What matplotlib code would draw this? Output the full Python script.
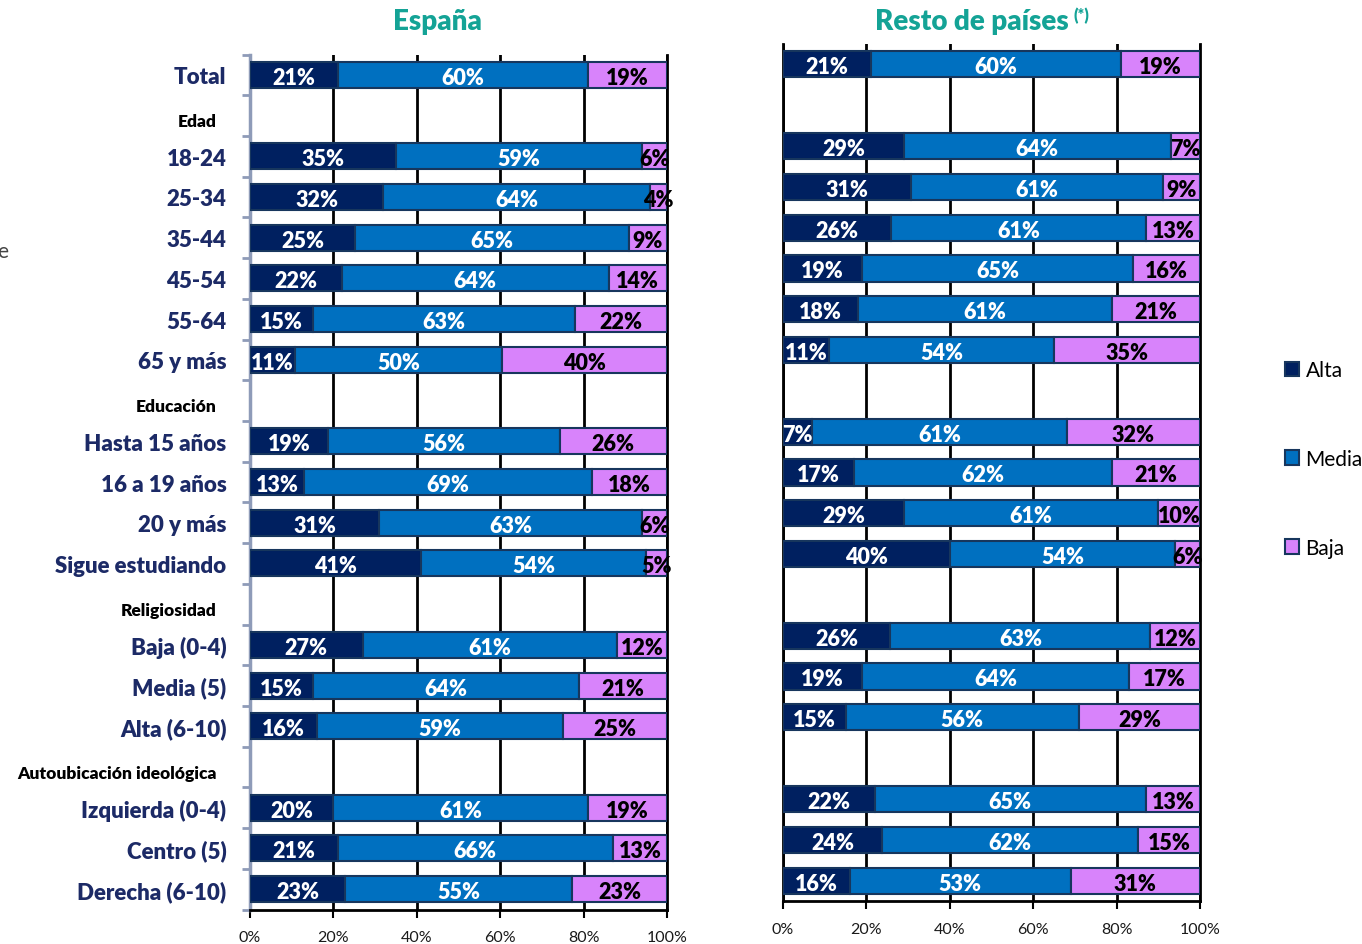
#!/usr/bin/python3
# -*- coding: UTF-8 -*-

import numpy as np
import matplotlib
matplotlib.use('Agg')
import matplotlib.pyplot as plt
from matplotlib.patches import Patch
from matplotlib.transforms import ScaledTranslation

plt.rcParams['font.family'] = ['Lato', 'DejaVu Sans']

## Data #########################################################################
rows = ['Total', 'Edad', '18-24', '25-34', '35-44', '45-54', '55-64', '65 y más',
        'Educación', 'Hasta 15 años', '16 a 19 años', '20 y más', 'Sigue estudiando',
        'Religiosidad', 'Baja (0-4)', 'Media (5)', 'Alta (6-10)',
        'Autoubicación ideológica', 'Izquierda (0-4)', 'Centro (5)', 'Derecha (6-10)']
headers = ['Edad', 'Educación', 'Religiosidad', 'Autoubicación ideológica']
series = ['Alta', 'Media', 'Baja']

esp_alta  = [21, 35, 32, 25, 22, 15, 11, 19, 13, 31, 41, 27, 15, 16, 20, 21, 23]
esp_media = [60, 59, 64, 65, 64, 63, 50, 56, 69, 63, 54, 61, 64, 59, 61, 66, 55]
esp_baja  = [19,  6,  4,  9, 14, 22, 40, 26, 18,  6,  5, 12, 21, 25, 19, 13, 23]

rest_alta  = [21, 29, 31, 26, 19, 18, 11,  7, 17, 29, 40, 26, 19, 15, 22, 24, 16]
rest_media = [60, 64, 61, 61, 65, 61, 54, 61, 62, 61, 54, 63, 64, 56, 65, 62, 53]
rest_baja  = [19,  7,  9, 13, 16, 21, 35, 32, 21, 10,  6, 12, 17, 29, 13, 15, 31]

xticks = [0, 20, 40, 60, 80, 100]

## Style ########################################################################
colors = ['#002060', '#0070c0', '#d883fb']
txtcol = ['white', 'white', 'black']
edge = '#17365d'
navy = '#1c2a66'
teal = '#14a396'
spinegray = '#8e9bb8'

W, H = 1362, 945
fig = plt.figure(figsize=(W/100, H/100), dpi=100)
ax1 = fig.add_axes([250/W, 1-910.5/H, 417/W, 855/H])
ax2 = fig.add_axes([783/W, 1-902/H, 417/W, 857/H])

cats = [r for r in rows if r not in headers]
ypos = np.array([rows.index(c) for c in cats])


def draw(ax, alta, media, baja):
   M = np.array([alta, media, baja], dtype=float)
   P = M / M.sum(axis=0) * 100   # 100% stacked
   left = np.zeros(len(cats))
   for i in range(3):
      ax.barh(ypos, P[i], left=left, height=0.64, color=colors[i],
              edgecolor=edge, linewidth=1.5, zorder=3)
      for y, l, p, v in zip(ypos, left, P[i], M[i]):
         ax.text(l + p/2, y + 0.06, f'{int(v)}%', ha='center', va='center',
                 color=txtcol[i], fontsize=15.5, fontweight='heavy', zorder=4)
      left += P[i]
   ax.set_xlim(0, 100)
   ax.set_ylim(len(rows) - 0.5, -0.5)
   ax.set_xticks(xticks)
   ax.set_xticklabels([f'{x}%' for x in xticks], fontsize=11.5, color='#1a1a1a')
   ax.xaxis.grid(True, color='black', lw=2)
   ax.set_axisbelow(True)
   ax.tick_params(axis='x', length=6, width=1.5, color='black', pad=9)
   ax.spines['top'].set_visible(False)
   for s in ['bottom', 'right']:
      ax.spines[s].set_color('black')
      ax.spines[s].set_linewidth(2)


draw(ax1, esp_alta, esp_media, esp_baja)
draw(ax2, rest_alta, rest_media, rest_baja)

# left panel: category labels and grey spine with separators
ax1.spines['left'].set_color(spinegray)
ax1.spines['left'].set_linewidth(2.5)
ax1.set_yticks(range(len(rows)))
ax1.set_yticklabels(rows)
ax1.set_yticks(np.arange(-0.5, len(rows), 1), minor=True)
ax1.tick_params(axis='y', which='major', length=0, pad=17)
ax1.tick_params(axis='y', which='minor', length=6, width=2, color=spinegray)
for lab in ax1.get_yticklabels():
   if lab.get_text() in headers:
      lab.set_fontsize(12.5)
      lab.set_color('black')
      lab.set_fontweight('heavy')
      lab.set_transform(lab.get_transform() +
                        ScaledTranslation(-7/72, -3/72, fig.dpi_scale_trans))
   else:
      lab.set_fontsize(16)
      lab.set_color(navy)
      lab.set_fontweight('heavy')

# right panel: no labels, black zero line
ax2.set_yticks([])
ax2.spines['left'].set_color('black')
ax2.spines['left'].set_linewidth(2)

## Titles and legend ############################################################
fig.text(437/W, 1-22/H, 'España', ha='center', va='center', color=teal,
         fontsize=20, fontweight='heavy')
fig.text(972/W, 1-22/H, 'Resto de países', ha='center', va='center', color=teal,
         fontsize=20, fontweight='heavy')
fig.text(1073/W, 1-16/H, '(*)', ha='left', va='center', color=teal,
         fontsize=11.5, fontweight='heavy')

handles = [Patch(facecolor=c, edgecolor=edge, linewidth=1.5) for c in colors]
fig.legend(handles, series, loc='center left', bbox_to_anchor=(1266/W, 1-460/H),
           frameon=False, fontsize=15, handlelength=0.7, handleheight=0.7,
           handletextpad=0.3, labelspacing=3.3)

# cut-off fragment at the left border
fig.text(-3/W, 1-252/H, 'e', ha='left', va='center', color='#444444', fontsize=15)

fig.savefig('out.png', dpi=100)
